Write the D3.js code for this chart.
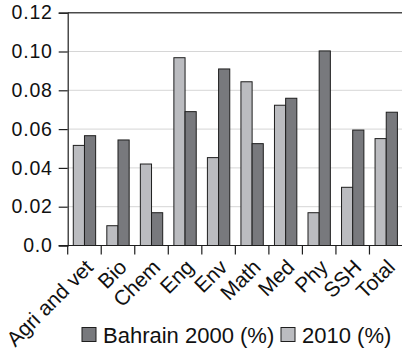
<!DOCTYPE html>
<html>
<head>
<meta charset="utf-8">
<script src="https://cdn.jsdelivr.net/npm/d3@7"></script>
<style>
  html, body { margin: 0; padding: 0; background: #fff; }
  svg { display: block; font-family: "Liberation Sans", Arial, Helvetica, sans-serif; }
</style>
</head>
<body>
<svg id="chart" width="402" height="351"></svg>
<script>
// Field categories along the x axis
const categories = ["Agri and vet", "Bio", "Chem", "Eng", "Env", "Math", "Med", "Phy", "SSH", "Total"];
// Share per field, Bahrain 2000 (%)
const values2000 = [0.0566, 0.0544, 0.0169, 0.0690, 0.0910, 0.0525, 0.0759, 0.1003, 0.0595, 0.0687];
// Share per field, 2010 (%)
const values2010 = [0.0516, 0.0102, 0.0420, 0.0968, 0.0453, 0.0844, 0.0723, 0.0169, 0.0300, 0.0551];
const yTicks = [0, 0.02, 0.04, 0.06, 0.08, 0.10, 0.12];
const seriesNames = ["Bahrain 2000 (%)", "2010 (%)"];

const colDark = "#78797d";
const colLight = "#bbbcc0";
const ink = "#1e1e1e";

const svg = d3.select("#chart");
const plot = { left: 67.7, right: 403, top: 12.7, bottom: 245.5 };

const x = d3.scaleBand().domain(categories).range([plot.left, plot.right]).padding(0);
const y = d3.scaleLinear().domain([0, 0.12]).range([plot.bottom, plot.top]);

// Bars within a band: 2010 first, then 2000
const inner = d3.scaleBand().domain(["2010", "2000"]).range([0, x.bandwidth()]).paddingOuter(0.5).paddingInner(0);

// Horizontal grid
svg.append("g")
  .selectAll("line")
  .data(yTicks.filter(t => t > 0 && t < 0.12))
  .join("line")
  .attr("x1", plot.left).attr("x2", plot.right)
  .attr("y1", d => y(d)).attr("y2", d => y(d))
  .attr("stroke", "#d6d6d6").attr("stroke-width", 1);

// Top frame line
svg.append("line")
  .attr("x1", plot.left).attr("x2", plot.right)
  .attr("y1", y(0.12)).attr("y2", y(0.12))
  .attr("stroke", "#4a4a4a").attr("stroke-width", 1.4);

// Bars
const rows = categories.map((c, i) => ({ c, v2010: values2010[i], v2000: values2000[i] }));
const groups = svg.append("g").selectAll("g")
  .data(rows).join("g")
  .attr("transform", d => `translate(${x(d.c)},0)`);

groups.append("rect")
  .attr("x", inner("2010")).attr("width", inner.bandwidth())
  .attr("y", d => y(d.v2010)).attr("height", d => y(0) - y(d.v2010))
  .attr("fill", colLight).attr("stroke", ink).attr("stroke-width", 1);

groups.append("rect")
  .attr("x", inner("2000")).attr("width", inner.bandwidth())
  .attr("y", d => y(d.v2000)).attr("height", d => y(0) - y(d.v2000))
  .attr("fill", colDark).attr("stroke", ink).attr("stroke-width", 1);

// Y axis
const yAxis = d3.axisLeft(y).tickValues(yTicks)
  .tickFormat(d => d === 0 ? "0.0" : d3.format(".2f")(d))
  .tickSize(9).tickPadding(6);
const gy = svg.append("g").attr("transform", `translate(${plot.left},0)`).call(yAxis);
gy.attr("font-family", null).attr("font-size", null);
gy.select(".domain").attr("stroke", ink).attr("stroke-width", 1.2);
gy.selectAll(".tick line").attr("stroke", ink).attr("stroke-width", 1.2);
gy.selectAll(".tick text")
  .attr("fill", "#111").style("font-size", "19.5px").style("letter-spacing", "0.8px");

// X axis: ticks at band boundaries
svg.append("line")
  .attr("x1", plot.left - 9).attr("x2", plot.right)
  .attr("y1", plot.bottom).attr("y2", plot.bottom)
  .attr("stroke", ink).attr("stroke-width", 1.2);
svg.append("g").selectAll("line")
  .data(categories).join("line")
  .attr("x1", d => x(d)).attr("x2", d => x(d))
  .attr("y1", plot.bottom).attr("y2", plot.bottom + 9)
  .attr("stroke", ink).attr("stroke-width", 1.2);

svg.append("g").selectAll("text")
  .data(categories).join("text")
  .attr("transform", d => `translate(${x(d) + x.bandwidth() / 2 + 10},${plot.bottom + 23}) rotate(-45)`)
  .attr("text-anchor", "end")
  .attr("fill", "#111")
  .style("font-size", "21px")
  .text(d => d);

// Legend
const legend = svg.append("g");
const legendItems = [
  { name: seriesNames[0], color: colDark, x: 82 },
  { name: seriesNames[1], color: colLight, x: 281 }
];
legendItems.forEach(it => {
  legend.append("rect")
    .attr("x", it.x).attr("y", 327.5).attr("width", 14).attr("height", 14)
    .attr("fill", it.color).attr("stroke", ink).attr("stroke-width", 1);
  legend.append("text")
    .attr("x", it.x + 21).attr("y", 342.5)
    .attr("fill", "#111")
    .style("font-size", "22px")
    .text(it.name);
});
</script>
</body>
</html>
